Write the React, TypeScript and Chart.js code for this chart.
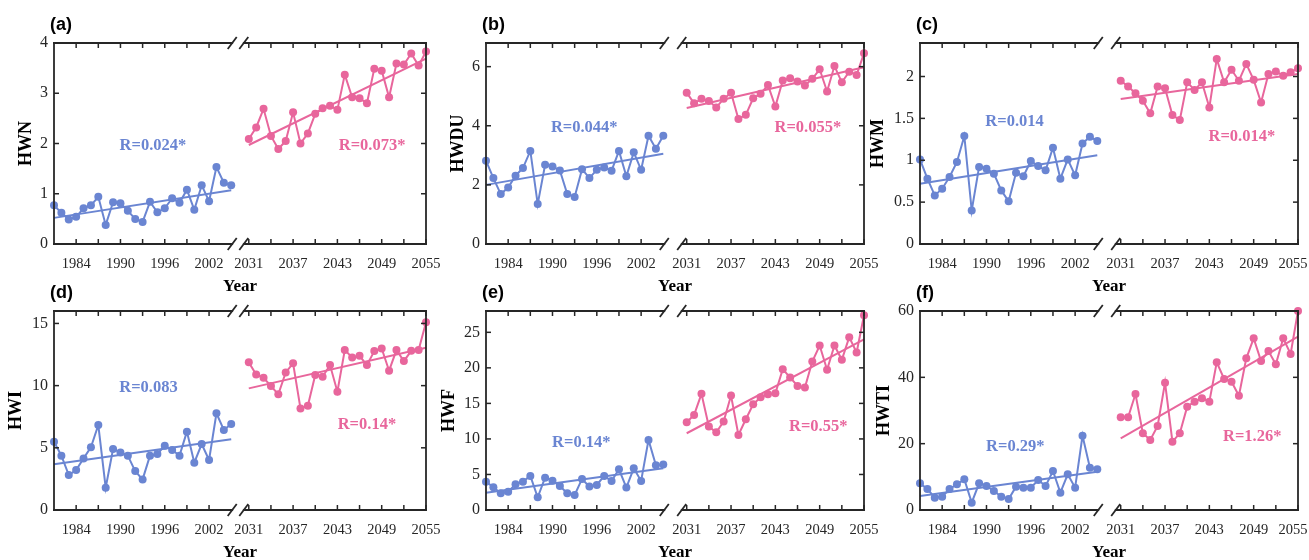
import React, { useEffect, useRef } from 'react';
import { Chart, registerables } from 'chart.js';

Chart.register(...registerables);

// ---------- categories ----------
const HIST_YEARS = [1981, 1982, 1983, 1984, 1985, 1986, 1987, 1988, 1989, 1990, 1991, 1992, 1993, 1994, 1995, 1996, 1997, 1998, 1999, 2000, 2001, 2002, 2003, 2004, 2005];
const FUT_YEARS = [2031, 2032, 2033, 2034, 2035, 2036, 2037, 2038, 2039, 2040, 2041, 2042, 2043, 2044, 2045, 2046, 2047, 2048, 2049, 2050, 2051, 2052, 2053, 2054, 2055];

// ---------- tick labels ----------
const HIST_TICK_LABELS = [1984, 1990, 1996, 2002];
const FUT_TICK_LABELS = [2031, 2037, 2043, 2049, 2055];
const HIST_TICK_MARKS = [1984, 1987, 1990, 1993, 1996, 1999, 2002];
const FUT_TICK_MARKS = [2031, 2034, 2037, 2040, 2043, 2046, 2049, 2052, 2055];

const HWN_Y_TICKS = [0, 1, 2, 3, 4];
const HWDU_Y_TICKS = [0, 2, 4, 6];
const HWM_Y_TICKS = [0, 0.5, 1, 1.5, 2];
const HWI_Y_TICKS = [0, 5, 10, 15];
const HWF_Y_TICKS = [0, 5, 10, 15, 20, 25];
const HWTI_Y_TICKS = [0, 20, 40, 60];

// ---------- series ----------
const HWN_HIST = [0.77, 0.62, 0.49, 0.54, 0.71, 0.77, 0.94, 0.38, 0.83, 0.81, 0.66, 0.50, 0.44, 0.84, 0.63, 0.71, 0.91, 0.82, 1.08, 0.68, 1.17, 0.85, 1.53, 1.22, 1.17];
const HWN_FUT = [2.09, 2.32, 2.69, 2.15, 1.89, 2.05, 2.62, 2.00, 2.20, 2.59, 2.70, 2.75, 2.67, 3.37, 2.92, 2.90, 2.80, 3.49, 3.45, 2.92, 3.59, 3.57, 3.79, 3.55, 3.83];
const HWN_TREND_HIST = [0.52, 1.07];
const HWN_TREND_FUT = [1.97, 3.69];

const HWDU_HIST = [2.82, 2.23, 1.69, 1.91, 2.31, 2.57, 3.15, 1.35, 2.68, 2.62, 2.49, 1.69, 1.59, 2.53, 2.23, 2.51, 2.59, 2.48, 3.15, 2.29, 3.10, 2.51, 3.66, 3.22, 3.66];
const HWDU_FUT = [5.12, 4.76, 4.91, 4.84, 4.62, 4.91, 5.12, 4.23, 4.37, 4.93, 5.08, 5.38, 4.65, 5.53, 5.61, 5.50, 5.36, 5.59, 5.91, 5.16, 6.02, 5.47, 5.83, 5.72, 6.45];
const HWDU_TREND_HIST = [2.0, 3.05];
const HWDU_TREND_FUT = [4.6, 5.98];

const HWM_HIST = [1.01, 0.78, 0.58, 0.66, 0.80, 0.98, 1.29, 0.40, 0.92, 0.90, 0.84, 0.64, 0.51, 0.85, 0.81, 0.99, 0.93, 0.88, 1.15, 0.78, 1.01, 0.82, 1.20, 1.28, 1.23];
const HWM_FUT = [1.95, 1.88, 1.80, 1.71, 1.56, 1.88, 1.86, 1.54, 1.48, 1.93, 1.84, 1.93, 1.63, 2.21, 1.93, 2.08, 1.95, 2.15, 1.96, 1.69, 2.03, 2.06, 2.01, 2.05, 2.10];
const HWM_TREND_HIST = [0.72, 1.06];
const HWM_TREND_FUT = [1.73, 2.03];

const HWI_HIST = [5.49, 4.37, 2.81, 3.21, 4.15, 5.04, 6.83, 1.79, 4.90, 4.63, 4.37, 3.13, 2.46, 4.37, 4.50, 5.17, 4.82, 4.37, 6.30, 3.80, 5.30, 4.02, 7.77, 6.43, 6.91];
const HWI_FUT = [11.87, 10.90, 10.63, 9.97, 9.30, 11.06, 11.79, 8.17, 8.38, 10.85, 10.72, 11.65, 9.51, 12.86, 12.27, 12.40, 11.65, 12.78, 12.99, 11.20, 12.86, 11.97, 12.80, 12.86, 15.10];
const HWI_TREND_HIST = [3.67, 5.68];
const HWI_TREND_FUT = [9.78, 13.05];

const HWF_HIST = [3.99, 3.19, 2.35, 2.58, 3.62, 3.99, 4.79, 1.78, 4.55, 4.13, 3.38, 2.35, 2.11, 4.37, 3.29, 3.52, 4.79, 4.08, 5.73, 3.15, 5.87, 4.08, 9.86, 6.30, 6.40];
const HWF_FUT = [12.35, 13.38, 16.34, 11.74, 10.94, 12.44, 16.10, 10.56, 12.77, 14.88, 15.87, 16.29, 16.43, 19.81, 18.64, 17.46, 17.23, 20.89, 23.15, 19.72, 23.15, 21.13, 24.32, 22.16, 27.40];
const HWF_TREND_HIST = [2.44, 5.87];
const HWF_TREND_FUT = [10.8, 24.0];

const HWTI_HIST = [8.04, 6.33, 3.72, 4.02, 6.33, 7.74, 9.25, 2.21, 8.04, 7.24, 5.73, 4.02, 3.32, 7.04, 6.73, 6.73, 9.05, 7.24, 11.76, 5.23, 10.75, 6.73, 22.41, 12.76, 12.26];
const HWTI_FUT = [27.94, 27.94, 34.97, 23.12, 21.11, 25.33, 38.39, 20.60, 23.12, 31.16, 32.66, 33.67, 32.66, 44.52, 39.50, 38.69, 34.47, 45.73, 51.76, 44.92, 47.94, 43.92, 51.76, 47.04, 60.0];
const HWTI_TREND_HIST = [4.22, 11.56];
const HWTI_TREND_FUT = [21.6, 52.3];

// ---------- styles ----------
const BLUE = '#6A85D2';
const PINK = '#E8669C';
const AXIS = '#262626';
const SERIF = "'Liberation Serif', 'Times New Roman', serif";
const SANS = "'Liberation Sans', Arial, sans-serif";
const PAD_TOP = 40;
const PAD_RIGHT = 30;
const X_H = 53;

type PanelCfg = {
  label: string; yTitle: string;
  hist: number[]; fut: number[]; trendHist: number[]; trendFut: number[];
  yTicks: number[]; yMax: number;
  rHist: string; rFut: string; rHistPos: number[]; rFutPos: number[];
  left: number; top: number; w: number; h: number; gap: number; titleOff: number; lastShift: number;
};

const PANELS: PanelCfg[] = [
  { label: '(a)', yTitle: 'HWN', hist: HWN_HIST, fut: HWN_FUT, trendHist: HWN_TREND_HIST, trendFut: HWN_TREND_FUT,
    yTicks: HWN_Y_TICKS, yMax: 4, rHist: 'R=0.024*', rFut: 'R=0.073*', rHistPos: [1994.4, 1.95], rFutPos: [2047.7, 1.95],
    left: 54, top: 43, w: 372, h: 201, gap: 2.38, titleOff: 27.6, lastShift: 0 },
  { label: '(b)', yTitle: 'HWDU', hist: HWDU_HIST, fut: HWDU_FUT, trendHist: HWDU_TREND_HIST, trendFut: HWDU_TREND_FUT,
    yTicks: HWDU_Y_TICKS, yMax: 6.8, rHist: 'R=0.044*', rFut: 'R=0.055*', rHistPos: [1994.3, 3.93], rFutPos: [2047.4, 3.93],
    left: 486, top: 43, w: 378, h: 201, gap: 3.17, titleOff: 27.4, lastShift: 0 },
  { label: '(c)', yTitle: 'HWM', hist: HWM_HIST, fut: HWM_FUT, trendHist: HWM_TREND_HIST, trendFut: HWM_TREND_FUT,
    yTicks: HWM_Y_TICKS, yMax: 2.4, rHist: 'R=0.014', rFut: 'R=0.014*', rHistPos: [1993.8, 1.46], rFutPos: [2047.4, 1.28],
    left: 920, top: 43, w: 378, h: 201, gap: 3.17, titleOff: 41, lastShift: 5 },
  { label: '(d)', yTitle: 'HWI', hist: HWI_HIST, fut: HWI_FUT, trendHist: HWI_TREND_HIST, trendFut: HWI_TREND_FUT,
    yTicks: HWI_Y_TICKS, yMax: 16, rHist: 'R=0.083', rFut: 'R=0.14*', rHistPos: [1993.8, 9.81], rFutPos: [2047.0, 6.83],
    left: 54, top: 311, w: 372, h: 199, gap: 2.38, titleOff: 36.8, lastShift: 0 },
  { label: '(e)', yTitle: 'HWF', hist: HWF_HIST, fut: HWF_FUT, trendHist: HWF_TREND_HIST, trendFut: HWF_TREND_FUT,
    yTicks: HWF_Y_TICKS, yMax: 28, rHist: 'R=0.14*', rFut: 'R=0.55*', rHistPos: [1993.9, 9.44], rFutPos: [2048.8, 11.69],
    left: 486, top: 311, w: 378, h: 199, gap: 3.17, titleOff: 36.5, lastShift: 0 },
  { label: '(f)', yTitle: 'HWTI', hist: HWTI_HIST, fut: HWTI_FUT, trendHist: HWTI_TREND_HIST, trendFut: HWTI_TREND_FUT,
    yTicks: HWTI_Y_TICKS, yMax: 60, rHist: 'R=0.29*', rFut: 'R=1.26*', rHistPos: [1993.9, 19.0], rFutPos: [2048.8, 22.0],
    left: 920, top: 311, w: 378, h: 199, gap: 3.17, titleOff: 35.5, lastShift: 5 },
];

const ALL_TICK_LABELS = [...HIST_TICK_LABELS, ...FUT_TICK_LABELS];

function Panel({ cfg }: { cfg: PanelCfg }) {
  const ref = useRef<HTMLCanvasElement>(null);
  const yW = Math.round(cfg.titleOff + 10.8);
  const cw = yW + cfg.w + PAD_RIGHT;
  const ch = PAD_TOP + cfg.h + X_H;

  useEffect(() => {
    const gap = cfg.gap;
    const mapX = (yr: number) => (yr >= 2020 ? yr - 2031 + 2005 + gap : yr);
    const xMax = 2005 + gap + 24;
    const unitsPerPx = (48 + gap) / cfg.w;

    const frame = {
      id: 'frame',
      afterDraw(chart: any) {
        const { ctx, chartArea: a, scales } = chart;
        const x = scales.x, y = scales.y;
        const line = (x1: number, y1: number, x2: number, y2: number) => {
          ctx.beginPath(); ctx.moveTo(x1, y1); ctx.lineTo(x2, y2); ctx.stroke();
        };
        ctx.save();
        ctx.strokeStyle = AXIS;
        ctx.lineWidth = 1.8;
        ctx.lineCap = 'square';
        const s1 = x.getPixelForValue(2005) + 1;
        const s2 = x.getPixelForValue(mapX(2031)) - 5;
        line(a.left, a.top, a.left, a.bottom);
        line(a.right, a.top, a.right, a.bottom);
        [a.top, a.bottom].forEach((yy: number) => {
          ctx.lineCap = 'square';
          line(a.left, yy, s1, yy);
          line(s2, yy, a.right, yy);
          ctx.lineCap = 'butt';
          line(s1 - 4.5, yy + 6, s1 + 4.5, yy - 6);
          line(s2 - 4.5, yy + 6, s2 + 4.5, yy - 6);
        });
        ctx.lineCap = 'butt';
        ctx.lineWidth = 1.5;
        cfg.yTicks.forEach((v) => {
          const py = y.getPixelForValue(v);
          line(a.left, py, a.left + 5, py);
          line(a.right, py, a.right - 5, py);
        });
        [...HIST_TICK_MARKS, ...FUT_TICK_MARKS].forEach((yr) => {
          const px = x.getPixelForValue(mapX(yr));
          line(px, a.top, px, a.top + 5);
          line(px, a.bottom, px, a.bottom - 5);
        });
        // R annotations
        ctx.font = `bold 16.5px ${SERIF}`;
        ctx.textAlign = 'center';
        ctx.textBaseline = 'middle';
        ctx.fillStyle = BLUE;
        ctx.fillText(cfg.rHist, x.getPixelForValue(mapX(cfg.rHistPos[0])), y.getPixelForValue(cfg.rHistPos[1]));
        ctx.fillStyle = PINK;
        ctx.fillText(cfg.rFut, x.getPixelForValue(mapX(cfg.rFutPos[0])), y.getPixelForValue(cfg.rFutPos[1]));
        // panel label
        ctx.font = `bold 18px ${SANS}`;
        ctx.textAlign = 'left';
        ctx.fillStyle = '#000';
        ctx.fillText(cfg.label, a.left - 4, a.top - 18);
        ctx.restore();
      },
    };

    const lineDs = (pts: any[], color: string) => ({
      data: pts, borderColor: color, backgroundColor: color, pointBackgroundColor: color,
      pointBorderColor: color, pointRadius: 4, pointHoverRadius: 4, pointBorderWidth: 0,
      borderWidth: 2, tension: 0, clip: 8,
    });
    const trendDs = (pts: any[], color: string) => ({
      data: pts, borderColor: color, backgroundColor: color, pointRadius: 0, pointHoverRadius: 0,
      borderWidth: 2, tension: 0, clip: 8,
    });

    const chart = new Chart(ref.current as HTMLCanvasElement, {
      type: 'line',
      data: {
        datasets: [
          trendDs([{ x: HIST_YEARS[0], y: cfg.trendHist[0] }, { x: HIST_YEARS[HIST_YEARS.length - 1], y: cfg.trendHist[1] }], BLUE),
          trendDs([{ x: mapX(FUT_YEARS[0]), y: cfg.trendFut[0] }, { x: mapX(FUT_YEARS[FUT_YEARS.length - 1]), y: cfg.trendFut[1] }], PINK),
          lineDs(HIST_YEARS.map((yr, i) => ({ x: yr, y: cfg.hist[i] })), BLUE),
          lineDs(FUT_YEARS.map((yr, i) => ({ x: mapX(yr), y: cfg.fut[i] })), PINK),
        ] as any,
      },
      options: {
        responsive: false,
        animation: false,
        events: [],
        layout: { padding: { left: 0, top: PAD_TOP, right: PAD_RIGHT, bottom: 0 } },
        plugins: { legend: { display: false }, tooltip: { enabled: false } },
        scales: {
          x: {
            type: 'linear', min: 1981, max: xMax,
            grid: { display: false, drawTicks: false }, border: { display: false },
            afterBuildTicks: (s: any) => {
              s.ticks = ALL_TICK_LABELS.map((v, i) => {
                let pos = mapX(v);
                if (i === ALL_TICK_LABELS.length - 1) pos -= cfg.lastShift * unitsPerPx;
                return { value: pos };
              });
            },
            afterFit: (s: any) => { s.height = X_H; },
            ticks: {
              autoSkip: false, maxRotation: 0, minRotation: 0, padding: 11, color: AXIS,
              font: { family: SERIF, size: 14.5 },
              callback: (_v: any, i: number) => String(ALL_TICK_LABELS[i]),
            },
            title: { display: true, text: 'Year', color: '#000', padding: 0, font: { family: SERIF, size: 17, weight: 'bold' } },
          },
          y: {
            type: 'linear', min: 0, max: cfg.yMax,
            grid: { display: false, drawTicks: false }, border: { display: false },
            afterBuildTicks: (s: any) => { s.ticks = cfg.yTicks.map((v) => ({ value: v })); },
            afterFit: (s: any) => { s.width = yW; },
            ticks: { padding: 6, color: AXIS, font: { family: SERIF, size: 16 }, callback: (v: any) => String(v) },
            title: { display: true, text: cfg.yTitle, color: '#000', padding: 0, font: { family: SERIF, size: 18, weight: 'bold' } },
          },
        },
      } as any,
      plugins: [frame],
    });
    return () => chart.destroy();
  }, []);

  return (
    <canvas
      ref={ref}
      width={cw}
      height={ch}
      style={{ position: 'absolute', left: cfg.left - yW, top: cfg.top - PAD_TOP, width: cw, height: ch }}
    />
  );
}

export default function App() {
  return (
    <div style={{ position: 'absolute', left: 0, top: 0, width: 1309, height: 560, overflow: 'hidden', background: '#fff' }}>
      {PANELS.map((p) => (
        <Panel key={p.label} cfg={p} />
      ))}
    </div>
  );
}
